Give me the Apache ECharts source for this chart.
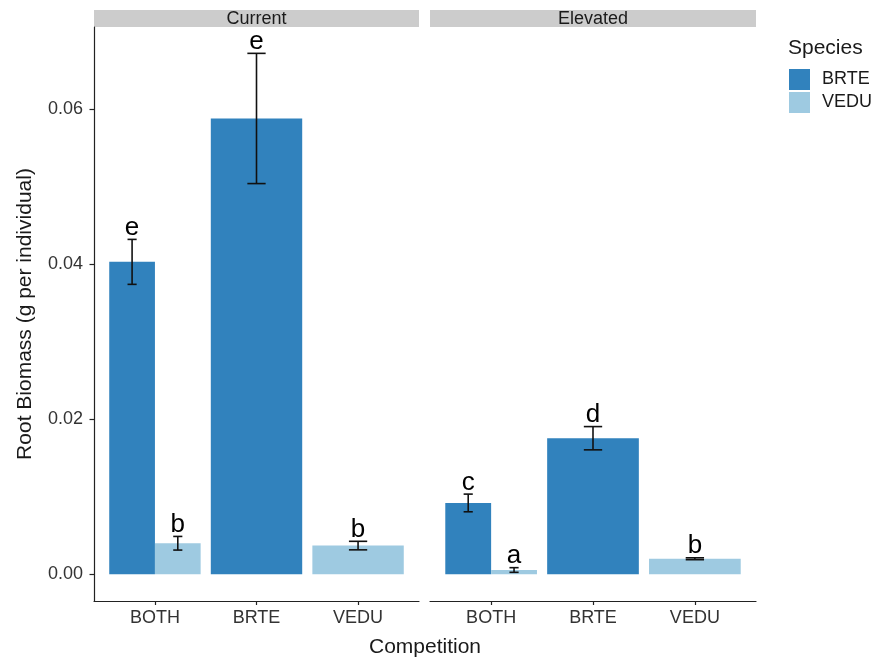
<!DOCTYPE html>
<html>
<head>
<meta charset="utf-8">
<script src="https://cdn.jsdelivr.net/npm/echarts@6/dist/echarts.min.js"></script>
<style>
  html, body { margin: 0; padding: 0; background: #ffffff; }
  #chart { width: 875px; height: 658px; }
</style>
</head>
<body>
<div id="chart"></div>
<script>
// Root biomass by competition treatment, faceted by CO2 level
const competition = ['BOTH', 'BRTE', 'VEDU'];
const panels = ['Current', 'Elevated'];
const species = ['BRTE', 'VEDU'];
const speciesColors = ['#3182bd', '#9ecae1'];
const yTicks = [0, 0.02, 0.04, 0.06];

// Means and standard errors (g per individual), indexed by competition
const brteCurrentMean = [0.0403, 0.0588, null];
const brteCurrentSE = [0.0029, 0.0084, null];
const veduCurrentMean = [0.0040, null, 0.0037];
const veduCurrentSE = [0.00088, null, 0.00055];
const brteElevatedMean = [0.0092, 0.01755, null];
const brteElevatedSE = [0.00114, 0.0015, null];
const veduElevatedMean = [0.00055, null, 0.0020];
const veduElevatedSE = [0.0003, null, 0.00012];

// Significance letters
const brteCurrentLetters = ['e', 'e', null];
const veduCurrentLetters = ['b', null, 'b'];
const brteElevatedLetters = ['c', 'd', null];
const veduElevatedLetters = ['a', null, 'b'];

const panelData = [
  { mean: [brteCurrentMean, veduCurrentMean], se: [brteCurrentSE, veduCurrentSE], letters: [brteCurrentLetters, veduCurrentLetters] },
  { mean: [brteElevatedMean, veduElevatedMean], se: [brteElevatedSE, veduElevatedSE], letters: [brteElevatedLetters, veduElevatedLetters] }
];

const FONT = "'Liberation Sans', Arial, Helvetica, sans-serif";
const DODGE = 0.9;

const grids = [
  { left: 94, top: 27, width: 325, height: 574 },
  { left: 430, top: 27, width: 326, height: 574 }
];

const xAxes = panels.map((p, k) => ({
  type: 'value', gridIndex: k, min: 0.4, max: 3.6,
  axisLine: { show: true, onZero: false, lineStyle: { color: '#222', width: 1.2 } },
  axisTick: { show: true, length: 4, customValues: [1, 2, 3], lineStyle: { color: '#222', width: 1.2 } },
  axisLabel: {
    customValues: [1, 2, 3], margin: 8,
    formatter: v => competition[Math.round(v) - 1],
    fontFamily: FONT, fontSize: 18, color: '#333'
  },
  splitLine: { show: false }
}));

const yAxes = panels.map((p, k) => ({
  type: 'value', gridIndex: k, min: -0.00345, max: 0.0706,
  name: k === 0 ? 'Root Biomass (g per individual)' : '',
  nameLocation: 'middle', nameGap: 58, nameRotate: 90,
  nameTextStyle: { fontFamily: FONT, fontSize: 21, color: '#1a1a1a' },
  axisLine: { show: k === 0, onZero: false, lineStyle: { color: '#222', width: 1.2 } },
  axisTick: { show: k === 0, length: 4.5, customValues: yTicks, lineStyle: { color: '#222', width: 1.2 } },
  axisLabel: {
    show: k === 0, customValues: yTicks, margin: 11,
    formatter: v => v.toFixed(2),
    fontFamily: FONT, fontSize: 18, color: '#333'
  },
  splitLine: { show: false }
}));

const series = [];
panelData.forEach((pd, k) => {
  species.forEach((sp, s) => {
    const data = [];
    const letters = [];
    competition.forEach((c, i) => {
      const m = pd.mean[s][i];
      if (m == null) return;
      const other = pd.mean[1 - s][i];
      const width = other == null ? DODGE : DODGE / 2;
      const offset = other == null ? 0 : (s === 0 ? -DODGE / 4 : DODGE / 4);
      data.push([i + 1 + offset, m, pd.se[s][i], width]);
      letters.push(pd.letters[s][i]);
    });
    series.push({
      type: 'custom', name: sp, xAxisIndex: k, yAxisIndex: k,
      itemStyle: { color: speciesColors[s] },
      clip: false,
      data: data,
      renderItem: function (params, api) {
        const x = api.value(0), m = api.value(1), se = api.value(2), w = api.value(3);
        const base = api.coord([x - w / 2, 0]);
        const top = api.coord([x + w / 2, m]);
        const hi = api.coord([x, m + se]);
        const lo = api.coord([x, m - se]);
        const barW = top[0] - base[0];
        const cap = barW * 0.1;
        const lineStyle = { stroke: '#111', lineWidth: 1.6 };
        return {
          type: 'group',
          children: [
            { type: 'rect', shape: { x: base[0], y: top[1], width: barW, height: base[1] - top[1] },
              style: { fill: api.visual('color') } },
            { type: 'line', shape: { x1: hi[0], y1: hi[1], x2: lo[0], y2: lo[1] }, style: lineStyle },
            { type: 'line', shape: { x1: hi[0] - cap, y1: hi[1], x2: hi[0] + cap, y2: hi[1] }, style: lineStyle },
            { type: 'line', shape: { x1: lo[0] - cap, y1: lo[1], x2: lo[0] + cap, y2: lo[1] }, style: lineStyle },
            { type: 'text', x: hi[0], y: hi[1] + 1.5,
              style: { text: letters[params.dataIndex], fill: '#000', font: '26px ' + FONT,
                       textAlign: 'center', textVerticalAlign: 'bottom', verticalAlign: 'bottom' } }
          ]
        };
      }
    });
  });
});

// Facet strips and shared x-axis title
const graphics = [];
panels.forEach((p, k) => {
  const g = grids[k];
  graphics.push({ type: 'rect', left: g.left, top: 10, shape: { width: g.width, height: 17 },
                  style: { fill: '#cccccc' }, silent: true });
  graphics.push({ type: 'text', x: g.left + g.width / 2, y: 19,
                  style: { text: p, font: '18px ' + FONT, fill: '#1a1a1a', textAlign: 'center', textVerticalAlign: 'middle', verticalAlign: 'middle' } });
});
graphics.push({ type: 'text', x: 425, y: 647,
                style: { text: 'Competition', font: '21px ' + FONT, fill: '#1a1a1a', textAlign: 'center', textVerticalAlign: 'middle', verticalAlign: 'middle' } });

const chart = echarts.init(document.getElementById('chart'), null, { renderer: 'canvas' });
chart.setOption({
  animation: false,
  backgroundColor: '#ffffff',
  title: { text: 'Species', left: 788, top: 38, padding: 0,
           textStyle: { fontFamily: FONT, fontSize: 21, fontWeight: 'normal', color: '#1a1a1a' } },
  legend: {
    data: species, orient: 'vertical', left: 789, top: 69, padding: 0,
    itemWidth: 21, itemHeight: 21, itemGap: 2, icon: 'rect',
    textStyle: { fontFamily: FONT, fontSize: 18, color: '#1a1a1a', padding: [0, 0, 0, 7] }
  },
  grid: grids,
  xAxis: xAxes,
  yAxis: yAxes,
  graphic: graphics,
  series: series
});
</script>
</body>
</html>
